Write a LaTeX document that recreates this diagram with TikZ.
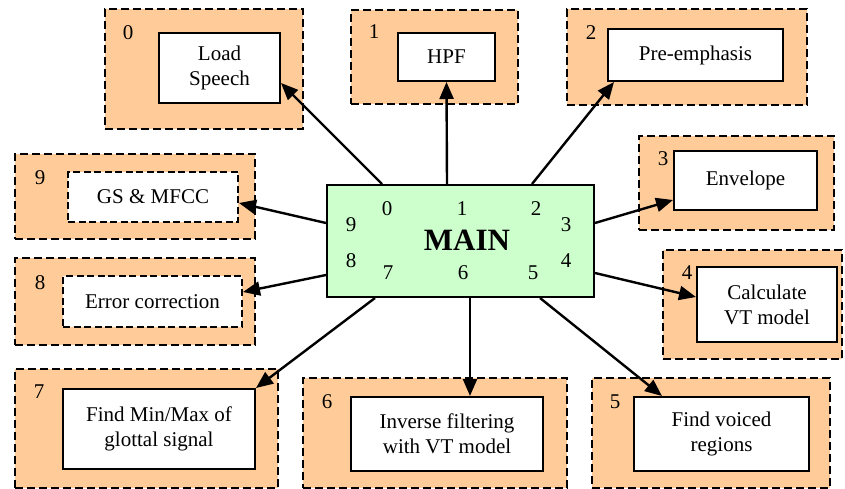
\documentclass[tikz,border=0pt]{standalone}
\usepackage{fontspec}
\setmainfont{Liberation Serif}
\usetikzlibrary{arrows.meta}
\definecolor{orangefill}{HTML}{FFCC99}
\definecolor{greenfill}{HTML}{CCFFCC}
\begin{document}
\begin{tikzpicture}[x=1pt,y=-1pt,
  outer/.style={draw, line width=2pt, dash pattern=on 8pt off 4pt, fill=orangefill, inner sep=0pt},
  inner/.style={draw, line width=2pt, fill=white, inner sep=0pt, align=center, font=\fontsize{21}{25}\selectfont},
  innerdash/.style={inner, dash pattern=on 7pt off 3.5pt},
  num/.style={inner sep=0pt, font=\fontsize{21}{25}\selectfont},
  mainbox/.style={draw, line width=2pt, fill=greenfill, inner sep=0pt},
  arr/.style={line width=2.4pt, -{Triangle[length=17pt,width=14pt]}}]
\useasboundingbox (0,0) rectangle (845,489);
% outer boxes
\node[outer, minimum width=198pt, minimum height=120pt] (o0) at (204,69) {};
\node[outer, minimum width=167pt, minimum height=94pt] (o1) at (434.5,57) {};
\node[outer, minimum width=240pt, minimum height=96pt] (o2) at (687,57) {};
\node[outer, minimum width=195pt, minimum height=94pt] (o3) at (736.5,183) {};
\node[outer, minimum width=179pt, minimum height=109pt] (o4) at (752.5,304.5) {};
\node[outer, minimum width=238pt, minimum height=110pt] (o5) at (711,433) {};
\node[outer, minimum width=264pt, minimum height=110pt] (o6) at (435,433) {};
\node[outer, minimum width=263pt, minimum height=119pt] (o7) at (146.5,428.5) {};
\node[outer, minimum width=240pt, minimum height=87pt] (o8) at (135,301.5) {};
\node[outer, minimum width=240pt, minimum height=85pt] (o9) at (135,196.5) {};
% numbers
\node[num] (n0) at (128,33) {0};
\node[num] (n1) at (374,32) {1};
\node[num] (n2) at (591,33) {2};
\node[num] (n3) at (663,159) {3};
\node[num] (n4) at (687,273) {4};
\node[num] (n5) at (615,402) {5};
\node[num] (n6) at (327,402) {6};
\node[num] (n7) at (39,392) {7};
\node[num] (n8) at (40,283) {8};
\node[num] (n9) at (40,178) {9};
% inner boxes
\node[inner, minimum width=121pt, minimum height=70pt] (i0) at (219.5,68) {Load\\Speech};
\node[inner, minimum width=97pt, minimum height=48pt] (i1) at (446.5,57) {HPF};
\node[inner, minimum width=175pt, minimum height=52pt] (i2) at (695.5,55) {Pre-emphasis};
\node[inner, minimum width=143pt, minimum height=59pt] (i3) at (745.5,180.5) {Envelope};
\node[inner, minimum width=140pt, minimum height=75pt] (i4) at (767,304.5) {Calculate\\VT model};
\node[inner, minimum width=175pt, minimum height=74pt] (i5) at (721.5,434) {Find voiced\\regions};
\node[inner, minimum width=192pt, minimum height=74pt] (i6) at (447,434) {Inverse filtering\\with VT model};
\node[inner, minimum width=192pt, minimum height=80pt] (i7) at (159,429) {Find Min/Max of\\glottal signal};
\node[innerdash, minimum width=179pt, minimum height=51pt] (i8) at (152.5,301.5) {Error correction};
\node[innerdash, minimum width=170pt, minimum height=50pt] (i9) at (153,197) {GS \& MFCC};
% main box
\node[mainbox, minimum width=267pt, minimum height=112pt] (main) at (460.5,241) {};
\node[inner sep=0pt, font=\fontsize{31}{36}\selectfont\bfseries] (maintext) at (467,240) {MAIN};
\node[num] (m0) at (387,209) {0};
\node[num] (m1) at (462,209) {1};
\node[num] (m2) at (536,209) {2};
\node[num] (m9) at (351,225) {9};
\node[num] (m3) at (566,225) {3};
\node[num] (m8) at (351,261) {8};
\node[num] (m4) at (566,261) {4};
\node[num] (m7) at (388,273) {7};
\node[num] (m6) at (463,273) {6};
\node[num] (m5) at (533,273) {5};
% arrows
\draw[arr] ([xshift=56pt]main.north west) -- ([yshift=-15pt]i0.east);
\draw[arr] ([xshift=-13.5pt]main.north) -- (i1.south);
\draw[arr] ([xshift=71.5pt]main.north) -- ([xshift=-81.5pt]i2.south);
\draw[arr] ([yshift=18pt]main.east) -- ([yshift=-19.5pt]i3.west);
\draw[arr] ([yshift=-32pt]main.east) -- ([yshift=7.5pt]i4.west);
\draw[arr] ([xshift=79.5pt]main.south) -- ([xshift=-59.5pt]i5.north);
\draw[arr] ([xshift=9.5pt]main.south) -- ([xshift=23pt]i6.north);
\draw[arr] ([xshift=-85.5pt]main.south) -- (i7.north east);
\draw[arr] ([yshift=-34pt]main.west) -- ([yshift=9.5pt]i8.east);
\draw[arr] ([yshift=18pt]main.west) -- ([yshift=-6pt]i9.east);
\end{tikzpicture}
\end{document}
